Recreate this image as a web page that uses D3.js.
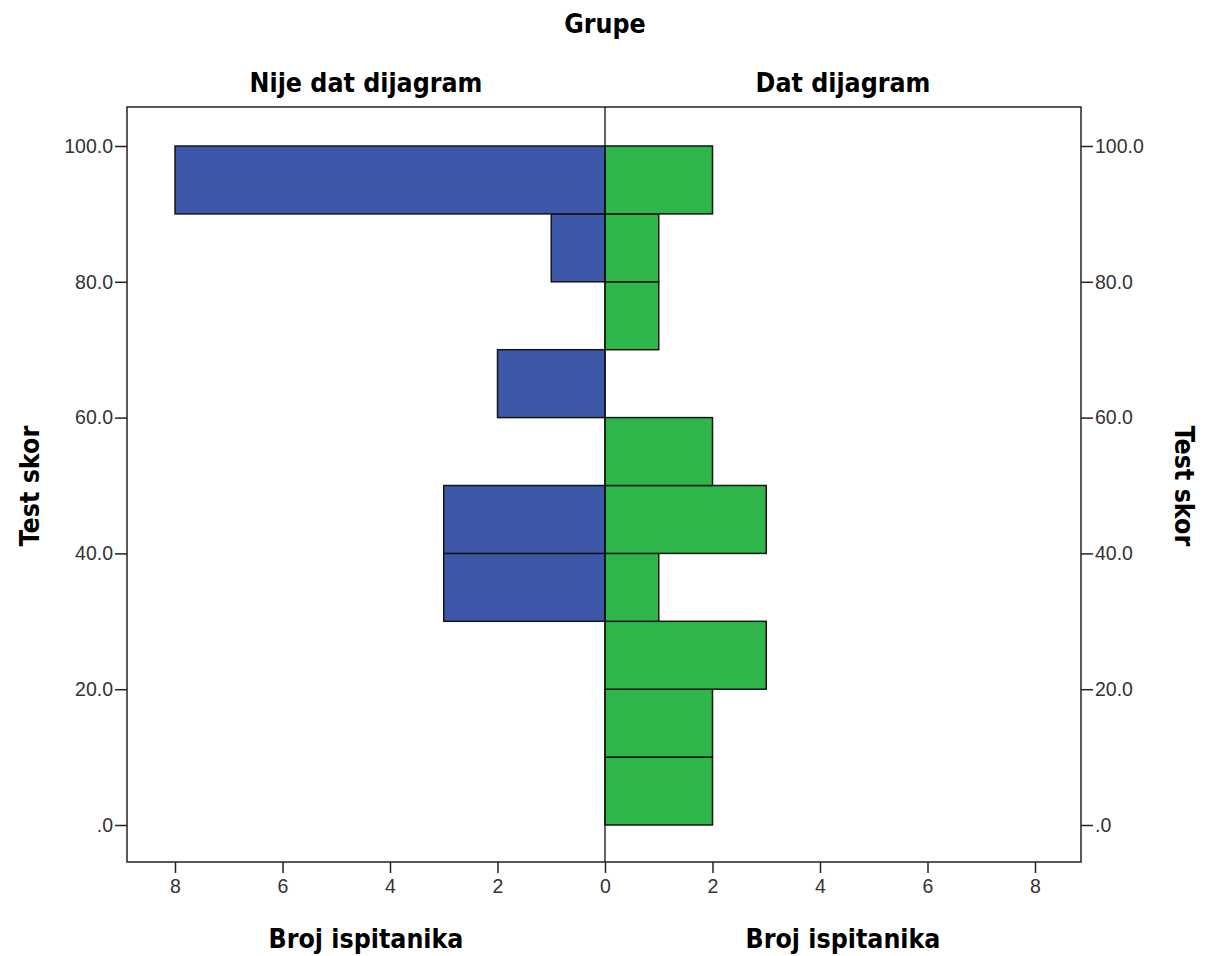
<!DOCTYPE html>
<html><head><meta charset="utf-8">
<script src="https://cdn.jsdelivr.net/npm/d3@7"></script>
<style>body{margin:0;background:#fff}</style>
</head><body>
<svg id="c" width="1206" height="956"></svg>
<script>
const binStarts = [0,10,20,30,40,50,60,70,80,90];
const leftCounts  = [0,0,0,3,3,0,2,0,1,8];   // Nije dat dijagram
const rightCounts = [2,2,3,1,3,2,0,1,1,2];   // Dat dijagram
const yTicks = [0,20,40,60,80,100];
const xTicks = [0,2,4,6,8];
const groupLeft = "Nije dat dijagram", groupRight = "Dat dijagram";

const svg = d3.select("#c");
const L=127, R=1081, T=107, B=862, C=605;
const y = d3.scaleLinear().domain([0,100]).range([825,146]);
const xl = d3.scaleLinear().domain([0,8]).range([C,175]);
const xr = d3.scaleLinear().domain([0,8]).range([C,1035]);
const tickFont = "'Liberation Sans', Arial, sans-serif";
const boldFont = "'DejaVu Sans Condensed', 'DejaVu Sans', sans-serif";

svg.append("rect").attr("x",L).attr("y",T).attr("width",R-L).attr("height",B-T)
  .attr("fill","#fff").attr("stroke","#222").attr("stroke-width",1.5);

const bw=10;
svg.selectAll(".bl").data(binStarts.map((s,i)=>({s,v:leftCounts[i]})).filter(d=>d.v>0))
  .enter().append("rect")
  .attr("x",d=>xl(d.v)).attr("width",d=>xl(0)-xl(d.v))
  .attr("y",d=>y(d.s+bw)).attr("height",d=>y(d.s)-y(d.s+bw))
  .attr("fill","#3D58A8").attr("stroke","#151515").attr("stroke-width",1.5);
svg.selectAll(".br").data(binStarts.map((s,i)=>({s,v:rightCounts[i]})).filter(d=>d.v>0))
  .enter().append("rect")
  .attr("x",xr(0)).attr("width",d=>xr(d.v)-xr(0))
  .attr("y",d=>y(d.s+bw)).attr("height",d=>y(d.s)-y(d.s+bw))
  .attr("fill","#2EB64A").attr("stroke","#151515").attr("stroke-width",1.5);

svg.append("line").attr("x1",C).attr("x2",C).attr("y1",T).attr("y2",B).attr("stroke","#111").attr("stroke-width",1.3);

function styleAxis(g){
  g.select(".domain").remove();
  g.selectAll(".tick line").attr("stroke","#222").attr("stroke-width",1.5);
  g.selectAll(".tick text").style("font-family",tickFont).style("font-size","19.5px").attr("fill","#333");
}
const fmt = v => v===0 ? ".0" : v.toFixed(1);
svg.append("g").attr("transform",`translate(${L},0)`)
  .call(d3.axisLeft(y).tickValues(yTicks).tickFormat(fmt).tickSize(12).tickPadding(2)).call(styleAxis);
svg.append("g").attr("transform",`translate(${R},0)`)
  .call(d3.axisRight(y).tickValues(yTicks).tickFormat(fmt).tickSize(12).tickPadding(2)).call(styleAxis);
svg.append("g").attr("transform",`translate(0,${B})`)
  .call(d3.axisBottom(xl).tickValues(xTicks).tickFormat(d3.format("d")).tickSize(11).tickPadding(6)).call(styleAxis);
svg.append("g").attr("transform",`translate(0,${B})`)
  .call(d3.axisBottom(xr).tickValues(xTicks.filter(d=>d>0)).tickFormat(d3.format("d")).tickSize(11).tickPadding(6)).call(styleAxis);

function label(txt,x,yy,rot){
  const t = svg.append("text").text(txt).style("font-family",boldFont).attr("font-weight","bold")
    .style("font-size","26.5px").attr("fill","#000").attr("text-anchor","middle");
  if(rot) t.attr("transform",`translate(${x},${yy}) rotate(${rot})`).attr("dominant-baseline","central");
  else t.attr("x",x).attr("y",yy);
}
label("Grupe",605,33);
label(groupLeft,366,92);
label(groupRight,843,92);
label("Broj ispitanika",366,948);
label("Broj ispitanika",843,948);
label("Test skor",29,486,-90);
label("Test skor",1184,486,90);
</script>
</body></html>
